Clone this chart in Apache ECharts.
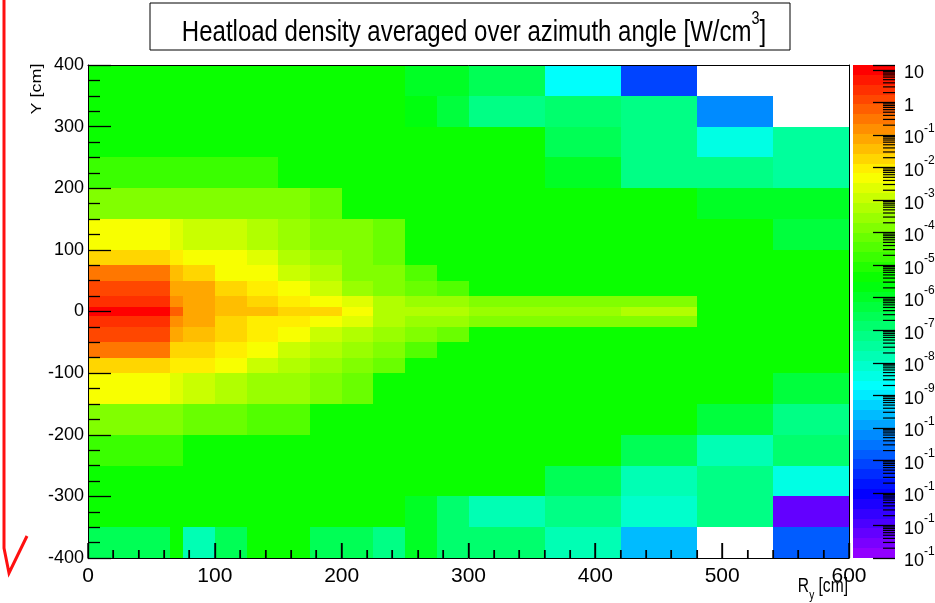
<!DOCTYPE html>
<html><head><meta charset="utf-8">
<script src="https://cdn.jsdelivr.net/npm/echarts@6/dist/echarts.min.js"></script>
<style>html,body{margin:0;padding:0;background:#fff}#c{width:935px;height:603px}</style>
</head><body><div id="c"></div>
<script>
// ---- data ----
const xEdges = [0,65,75,100,125,150,175,200,225,250,275,300,360,420,480,540,600];      // R_y [cm]
const yEdges = [400,350,300,250,200,150,100,75,50,25,7.5,-7.5,-25,-50,-75,-100,-150,-200,-250,-300,-350,-400]; // Y [cm]
const G = -5.5; // typical green level
// log10 of heatload density [W/cm^3], rows top->bottom, columns left->right; null = empty bin
const row0  = [G,G,G,G,G,G,G,G,G,-6.1,-6.1,-6.5,-8.8,-11.0,null,null];
const row1  = [G,G,G,G,G,G,G,G,G,-5.7,-6.3,-7.2,-6.8,-7.3,-10.2,null];
const row2  = [G,G,G,G,G,G,G,G,G,G,G,G,-6.6,-7.2,-8.4,-7.5];
const row3  = [-4.85,-4.85,-4.8,-4.8,-4.85,G,G,G,G,G,G,G,-5.9,-7.3,-7.2,-7.4];
const row4  = [-3.9,-3.9,-3.9,-4.0,-4.0,-4.0,-4.3,G,G,G,G,G,G,G,-6.1,-6.1];
const row5  = [-2.25,-2.6,-2.8,-3.0,-3.1,-3.55,-3.8,-4.0,-4.15,G,G,G,G,G,G,-6.3];
const row6  = [-1.75,-1.95,-2.25,-2.45,-2.65,-3.2,-3.6,-3.9,-4.1,G,G,G,G,G,G,G];
const row7  = [-0.65,-1.55,-1.7,-2.25,-2.3,-2.9,-3.3,-3.7,-3.9,-4.6,G,G,G,G,G,G];
const row8  = [0.1,-1.05,-1.25,-1.7,-1.9,-2.35,-3.05,-3.5,-3.7,-4.1,-4.4,G,G,G,G,G];
const row9  = [0.4,-0.85,-1.05,-1.45,-1.7,-2.05,-2.4,-2.75,-3.3,-3.5,-3.6,-3.85,-3.85,-3.85,G,G];
const row10 = [1.0,-0.3,-1.0,-1.4,-1.5,-1.6,-1.8,-2.2,-3.1,-3.3,-3.35,-3.5,-3.45,-3.15,G,G];
const row11 = [0.3,-0.9,-1.2,-1.7,-1.9,-2.0,-2.45,-2.65,-3.3,-3.5,-3.6,-3.9,-3.8,-3.9,G,G];
const row12 = [0.05,-1.05,-1.35,-1.8,-2.1,-2.45,-2.9,-3.1,-3.5,-3.9,-4.3,G,G,G,G,G];
const row13 = [-0.6,-1.6,-1.6,-1.95,-2.35,-2.9,-3.3,-3.5,-3.7,-4.4,G,G,G,G,G,G];
const row14 = [-1.6,-2.0,-2.0,-2.45,-2.9,-3.3,-3.6,-3.85,-4.2,G,G,G,G,G,G,G];
const row15 = [-2.25,-2.65,-2.9,-3.2,-3.5,-3.65,-3.85,-4.05,G,G,G,G,G,G,G,-6.2];
const row16 = [-3.7,-3.7,-4.3,-4.1,-4.55,-4.55,G,G,G,G,G,G,G,G,-6.3,-7.3];
const row17 = [-4.7,-4.7,G,G,G,G,G,G,G,G,G,G,G,-6.5,-7.8,-7.0];
const row18 = [G,G,G,G,G,G,G,G,G,G,G,G,-6.5,-7.8,-7.3,-8.4];
const row19 = [G,G,G,G,G,G,G,G,G,-6.0,-6.8,-7.8,-7.3,-8.1,-7.3,-13.2];
const row20 = [-6.7,G,-7.7,-6.7,G,G,-6.5,-6.5,-7.2,-6.1,-6.8,-6.8,-7.9,-9.6,null,-10.8];
const rows = [row0,row1,row2,row3,row4,row5,row6,row7,row8,row9,row10,row11,row12,row13,row14,row15,row16,row17,row18,row19,row20];

const zLogMin = -14, zLogMax = 1.15;   // palette range (log10)
const paletteExponents = [-14,-13,-12,-11,-10,-9,-8,-7,-6,-5,-4,-3,-2,-1,0,1];
const xTickValues = [0,100,200,300,400,500,600];
const yTickValues = [-400,-300,-200,-100,0,100,200,300,400];
const xMinorStep = 20;
const nColors = 50;

// ---- palette (ROOT "pretty palette": HLS hue 280 -> 0) ----
function hslToRgb(h, s, l){
  h = ((h % 360) + 360) % 360 / 360;
  const q = l < 0.5 ? l*(1+s) : l + s - l*s, p = 2*l - q;
  function f(t){ if(t<0)t+=1; if(t>1)t-=1; if(t<1/6)return p+(q-p)*6*t; if(t<1/2)return q; if(t<2/3)return p+(q-p)*(2/3-t)*6; return p; }
  return 'rgb(' + Math.round(f(h+1/3)*255) + ',' + Math.round(f(h)*255) + ',' + Math.round(f(h-1/3)*255) + ')';
}
function colorIndex(v){ let i = Math.floor((v - zLogMin)/(zLogMax - zLogMin)*nColors); return Math.max(0, Math.min(nColors-1, i)); }
function indexColor(i){ return hslToRgb(280 - (i+1)*(280/nColors), 1, 0.5); }

// ---- build cells ----
const cells = [];
rows.forEach((r, ri) => r.forEach((v, ci) => {
  if (v !== null) cells.push([xEdges[ci], xEdges[ci+1], yEdges[ri+1], yEdges[ri], v]);
}));
const bands = [];
for (let i = 0; i < nColors; i++) bands.push([i, zLogMin + i*(zLogMax-zLogMin)/nColors, zLogMin + (i+1)*(zLogMax-zLogMin)/nColors]);
const minorTicks = [];
paletteExponents.forEach(n => { for (let k = 2; k <= 9; k++) { const t = n + Math.log10(k); if (t < zLogMax) minorTicks.push([t]); } });
const yBottom = yEdges[yEdges.length-1];
const xTickMarks = [];
for (let v = xTickValues[0]; v <= xTickValues[xTickValues.length-1]; v += xMinorStep) xTickMarks.push([v, yBottom, xTickValues.includes(v) ? 1 : 0]);

const FONT = "'Liberation Sans',Arial,Helvetica,sans-serif";

function renderCell(params, api){
  const a = api.coord([api.value(0), api.value(3)]);
  const b = api.coord([api.value(1), api.value(2)]);
  const x0 = Math.round(a[0]), y0 = Math.round(a[1]), x1 = Math.round(b[0]), y1 = Math.round(b[1]);
  return {type:'rect', shape:{x:x0, y:y0, width:x1-x0, height:y1-y0}, style:{fill: indexColor(colorIndex(api.value(4)))}};
}
function renderBand(params, api){
  const a = api.coord([0, api.value(2)]);
  const b = api.coord([1, api.value(1)]);
  const x0 = Math.round(a[0]), y0 = Math.round(a[1]), x1 = Math.round(b[0]), y1 = Math.round(b[1]);
  return {type:'rect', shape:{x:x0, y:y0, width:x1-x0, height:y1-y0}, style:{fill: indexColor(api.value(0))}};
}
function renderMinor(params, api){
  const p = api.coord([1, api.value(0)]);
  return {type:'line', shape:{x1:p[0]-12, y1:p[1], x2:p[0], y2:p[1]}, style:{stroke:'#000', lineWidth:1.2}};
}
function renderXTick(params, api){
  const p = api.coord([api.value(0), api.value(1)]);
  const len = api.value(2) ? 15 : 8;
  const x = Math.round(p[0]);
  const yb = Math.round(p[1]);
  return {type:'rect', shape:{x:x - 0.7, y:yb - len, width:1.4, height:len}, style:{fill:'#000'}};
}

const chart = echarts.init(document.getElementById('c'), null, {renderer:'canvas'});
const tickStyle = {color:'#000', width:1.3};
chart.setOption({
  animation:false,
  backgroundColor:'#fff',
  grid:[
    {left:88, top:65, width:761, height:493, containLabel:false, outerBoundsMode:'none'},
    {left:853, top:65, width:42, height:493, containLabel:false, outerBoundsMode:'none'}
  ],
  xAxis:[
    // main R_y axis; placed on the zero of a hidden 0..800 helper axis, i.e. at the bottom of the frame
    {gridIndex:0, type:'value', position:'bottom', min:0, max:600, interval:100, z:10,
     axisLine:{show:true, onZero:true, onZeroAxisIndex:2, lineStyle:{color:'#000', width:1}}, splitLine:{show:false},
     axisTick:{show:true, inside:true, length:15, lineStyle:tickStyle},
     minorTick:{show:true, splitNumber:5, length:8, lineStyle:{color:'#000', width:1.1}},
     axisLabel:{color:'#000', fontFamily:FONT, fontSize:21, margin:8,
       formatter: v => xTickValues.includes(v) ? String(v) : ''}},
    {gridIndex:1, type:'value', min:0, max:1, show:false},
    // top frame line
    {gridIndex:0, type:'value', position:'top', min:0, max:600, z:10,
     axisLine:{show:true, onZero:false, lineStyle:{color:'#000', width:1}},
     axisTick:{show:false}, axisLabel:{show:false}, splitLine:{show:false}}
  ],
  yAxis:[
    {gridIndex:0, type:'value', position:'left', min:-400, max:400, interval:100, z:10,
     axisLine:{show:true, onZero:false, lineStyle:{color:'#000', width:1}}, splitLine:{show:false},
     axisTick:{show:true, inside:true, length:23, lineStyle:tickStyle},
     minorTick:{show:true, splitNumber:4, length:12, lineStyle:tickStyle},
     axisLabel:{color:'#000', fontFamily:FONT, fontSize:18, margin:4,
       formatter: v => yTickValues.includes(v) ? String(v) : ''}},
    {gridIndex:1, type:'value', position:'right', min:zLogMin, max:zLogMax, interval:1, z:10,
     axisLine:{show:false, onZero:false}, splitLine:{show:false},
     axisTick:{show:true, inside:true, length:22, lineStyle:tickStyle},
     axisLabel:{color:'#000', fontFamily:FONT, margin:9, align:'left',
       formatter: v => {
         const n = Math.round(v);
         if (Math.abs(v-n) > 1e-6 || !paletteExponents.includes(n)) return '';
         if (n === 1) return '{b|10}';
         if (n === 0) return '{b|1}';
         return '{b|10}{s|' + n + '}';
       },
       rich:{
         b:{fontFamily:FONT, fontSize:18, color:'#000', lineHeight:25, verticalAlign:'bottom'},
         s:{fontFamily:FONT, fontSize:12, color:'#000', verticalAlign:'top'}
       }}},
    // hidden helper: its zero is the bottom edge of the frame
    {gridIndex:0, type:'value', min:0, max:800, show:false},
    // right frame line
    {gridIndex:0, type:'value', position:'right', min:-400, max:400, z:10,
     axisLine:{show:true, onZero:false, lineStyle:{color:'#000', width:1}},
     axisTick:{show:false}, axisLabel:{show:false}, splitLine:{show:false}}
  ],
  series:[
    {type:'custom', name:'heatload', xAxisIndex:0, yAxisIndex:0, clip:true,
     data:cells, encode:{x:[0,1], y:[2,3]}, renderItem:renderCell, z:1},
    {type:'custom', name:'xTicks', xAxisIndex:0, yAxisIndex:0, z:6,
     data:xTickMarks, encode:{x:[0], y:[1]}, renderItem:renderXTick},
    {type:'custom', name:'palette', xAxisIndex:1, yAxisIndex:1,
     data:bands, encode:{y:[1,2]}, renderItem:renderBand, z:1},
    {type:'custom', name:'paletteMinor', xAxisIndex:1, yAxisIndex:1,
     data:minorTicks, encode:{y:[0]}, renderItem:renderMinor, z:12}
  ],
  graphic:[
    {type:'rect', shape:{x:150, y:3, width:640, height:47}, style:{fill:'#fff', stroke:'#000', lineWidth:1}, z:20},
    {type:'text', x:474, y:29, scaleX:0.8, z:21, style:{
      text:'{t|Heatload density averaged over azimuth angle [W/cm}{s|3}{t|]}',
      align:'center', verticalAlign:'middle',
      rich:{ t:{fontFamily:FONT, fontSize:30, color:'#000', lineHeight:38, verticalAlign:'bottom'},
             s:{fontFamily:FONT, fontSize:18, color:'#000', verticalAlign:'top'} } }},
    {type:'text', x:37, y:89, rotation:Math.PI/2, scaleY:0.85, z:21, style:{
      text:'Y [cm]', fontFamily:FONT, fontSize:18, fill:'#000', align:'center', verticalAlign:'middle'}},
    {type:'text', x:848, y:589, scaleX:0.78, z:21, style:{
      text:'{r|R}{u|y}{r| [cm]}', align:'right', verticalAlign:'middle',
      rich:{ r:{fontFamily:FONT, fontSize:20, color:'#000', lineHeight:26, verticalAlign:'top'},
             u:{fontFamily:FONT, fontSize:13, color:'#000', verticalAlign:'bottom'} } }},
    {type:'polyline', z:22, shape:{points:[[4,0],[4,548],[9,573],[27,536]]},
     style:{stroke:'#ff1010', lineWidth:3, fill:'none'}}
  ]
});
</script></body></html>
